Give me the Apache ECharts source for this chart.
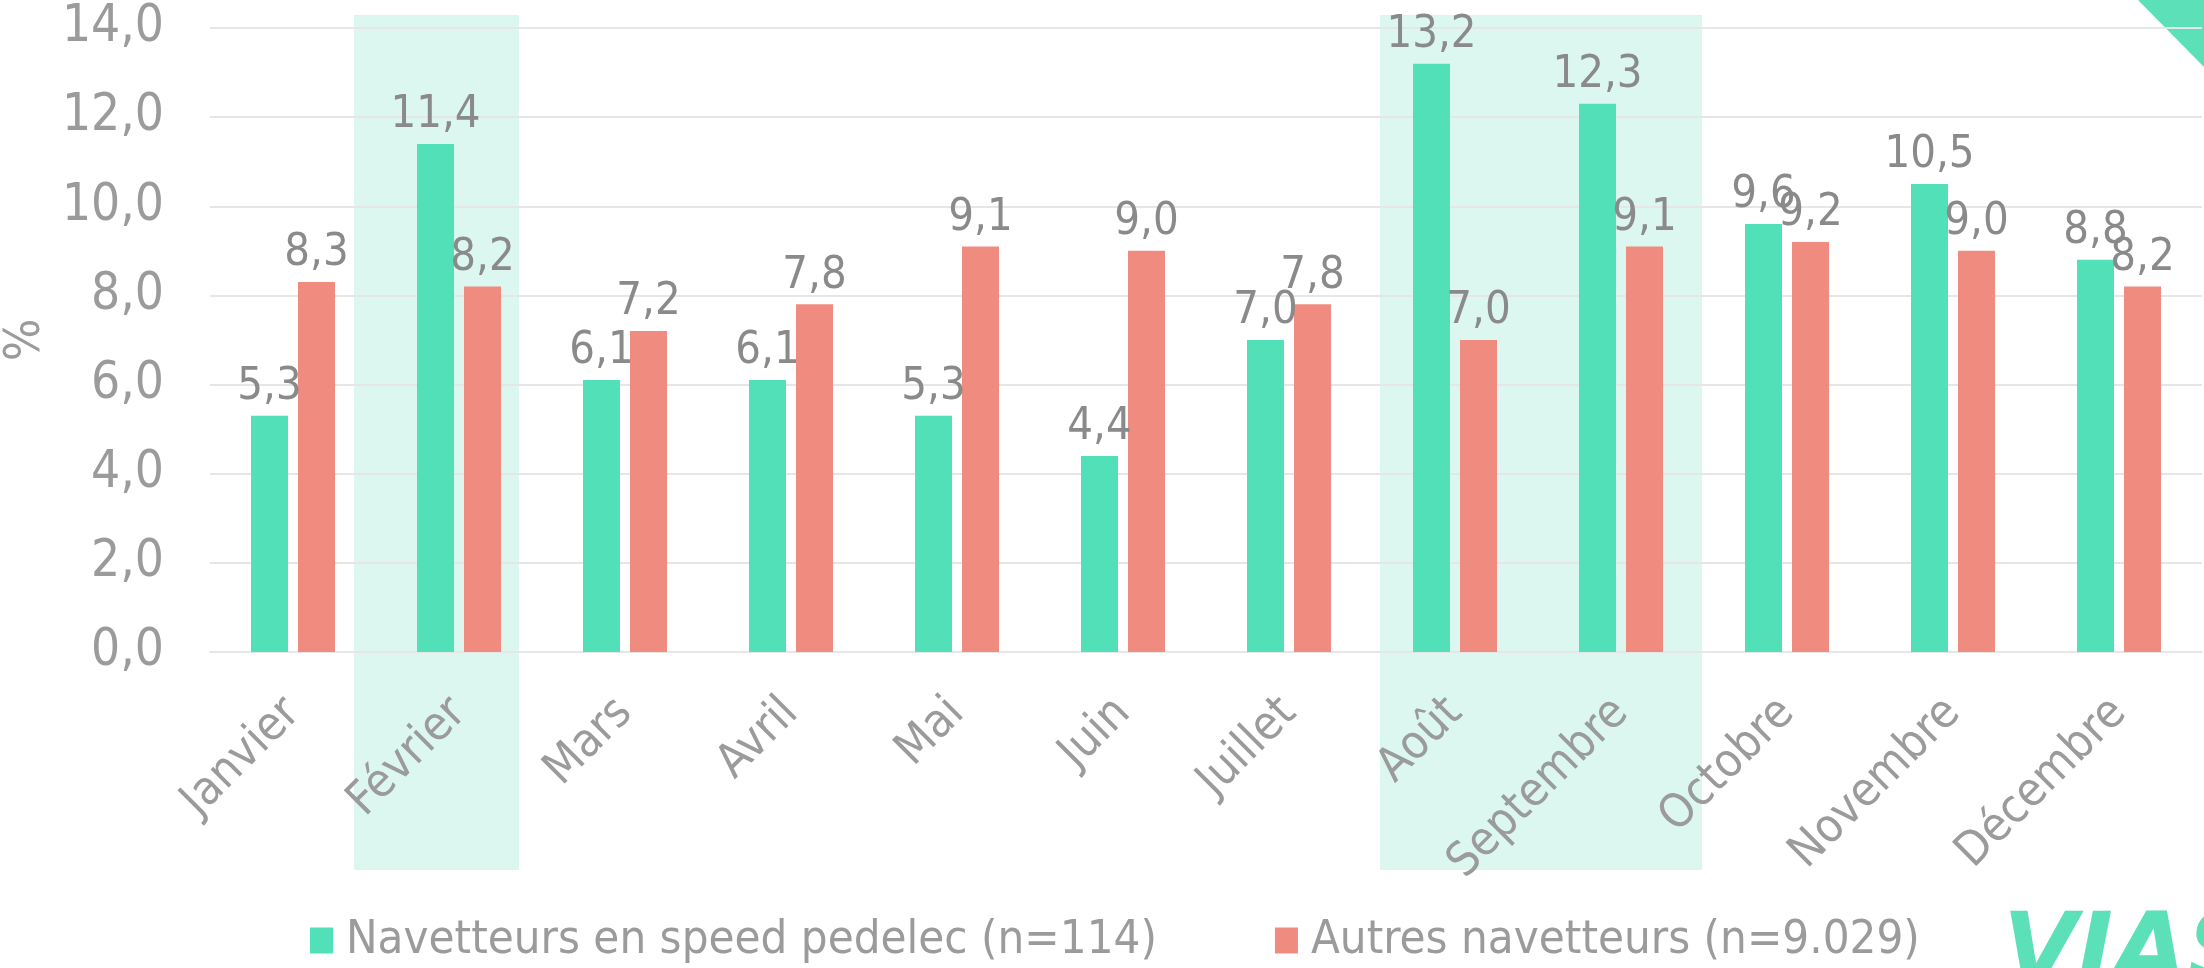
<!DOCTYPE html>
<html>
<head>
<meta charset="utf-8">
<script src="https://cdn.jsdelivr.net/npm/echarts@6/dist/echarts.min.js"></script>
<style>
html,body{margin:0;padding:0;background:#fff;}
#chart{width:2204px;height:968px;}
</style>
</head>
<body>
<div id="chart"></div>
<script>
const months = ['Janvier','Février','Mars','Avril','Mai','Juin','Juillet','Août','Septembre','Octobre','Novembre','Décembre'];
const speedPedelec = [5.3, 11.4, 6.1, 6.1, 5.3, 4.4, 7.0, 13.2, 12.3, 9.6, 10.5, 8.8];
const autres = [8.3, 8.2, 7.2, 7.8, 9.1, 9.0, 7.8, 7.0, 9.1, 9.2, 9.0, 8.2];
const seriesNames = ['Navetteurs en speed pedelec (n=114)', 'Autres navetteurs (n=9.029)'];
const highlighted = [['Février','Février'], ['Août','Septembre']];

const FONT = '"DejaVu Sans Condensed", "DejaVu Sans", sans-serif';
const GREEN = '#52E0B9';
const RED = '#F08B80';
const BAND = '#DCF7EF';
const fmt = v => v.toFixed(1).replace('.', ',');

const chart = echarts.init(document.getElementById('chart'), null, {renderer:'canvas'});
const option = {
  backgroundColor: '#ffffff',
  animation: false,
  grid: {left: 210, right: 2, top: 28, bottom: 316, containLabel: false, outerBoundsMode: 'none'},
  legend: {
    left: 305, top: 912,
    itemWidth: 23, itemHeight: 26, itemGap: 118,
    icon: 'rect',
    textStyle: {color: '#9b9b9b', fontFamily: FONT, fontSize: 47, padding: [0,0,0,8]},
    data: seriesNames
  },
  xAxis: {
    type: 'category',
    data: months,
    axisLine: {show: true, lineStyle: {color: '#e6e6e6', width: 2}},
    axisTick: {show: false},
    axisLabel: {rotate: 45, margin: 54, color: '#9b9b9b', fontFamily: FONT, fontSize: 47, interval: 0}
  },
  yAxis: {
    type: 'value',
    min: 0, max: 14, interval: 2,
    name: '%',
    nameLocation: 'middle',
    nameRotate: 90,
    nameGap: 132,
    nameTextStyle: {color: '#9b9b9b', fontFamily: FONT, fontSize: 50},
    axisLine: {show: false},
    axisTick: {show: false},
    splitLine: {lineStyle: {color: '#e6e6e6', width: 2}},
    axisLabel: {margin: 46, color: '#9b9b9b', fontFamily: FONT, fontSize: 51, formatter: v => fmt(v)}
  },
  series: [
    {
      name: seriesNames[0], type: 'bar', data: speedPedelec,
      barWidth: 37, barGap: '27%',
      itemStyle: {color: GREEN},
      label: {show: true, position: 'top', distance: 6, color: '#8a8a8a', fontFamily: FONT, fontSize: 45, formatter: p => fmt(p.value)}
    },
    {
      name: seriesNames[1], type: 'bar', data: autres,
      barWidth: 37, barGap: '27%',
      itemStyle: {color: RED},
      label: {show: true, position: 'top', distance: 6, color: '#8a8a8a', fontFamily: FONT, fontSize: 45, formatter: p => fmt(p.value)}
    }
  ]
};
chart.setOption(option);

function addDecorations() {
  const c0 = chart.convertToPixel({xAxisIndex: 0}, months[0]);
  const c1 = chart.convertToPixel({xAxisIndex: 0}, months[1]);
  const w = c1 - c0;
  const yTop = chart.convertToPixel({yAxisIndex: 0}, 14);
  const yZero = chart.convertToPixel({yAxisIndex: 0}, 0);
  const shifts = [[-22, -23], [8, -2]];
  const elements = highlighted.map((b, i) => {
    const l = chart.convertToPixel({xAxisIndex: 0}, b[0]) - w / 2 + shifts[i][0];
    const r = chart.convertToPixel({xAxisIndex: 0}, b[1]) + w / 2 + shifts[i][1];
    return {
      type: 'rect', z: -10, silent: true,
      shape: {x: l, y: yTop - 13, width: r - l, height: (yZero + 218) - (yTop - 13)},
      style: {fill: BAND}
    };
  });
  elements.push({
    type: 'polygon', z: -10, silent: true,
    shape: {points: [[2138, 0], [2204, 0], [2204, 67]]},
    style: {fill: '#5CE0B8'}
  });
  elements.push({
    type: 'text', z: 5, silent: true,
    left: 2003, top: 908,
    style: {text: 'VIAS', fill: '#5CE0B8', font: 'italic 900 96px "DejaVu Sans", sans-serif'}
  });
  chart.setOption({graphic: {elements: elements}});
}
addDecorations();
</script>
</body>
</html>
